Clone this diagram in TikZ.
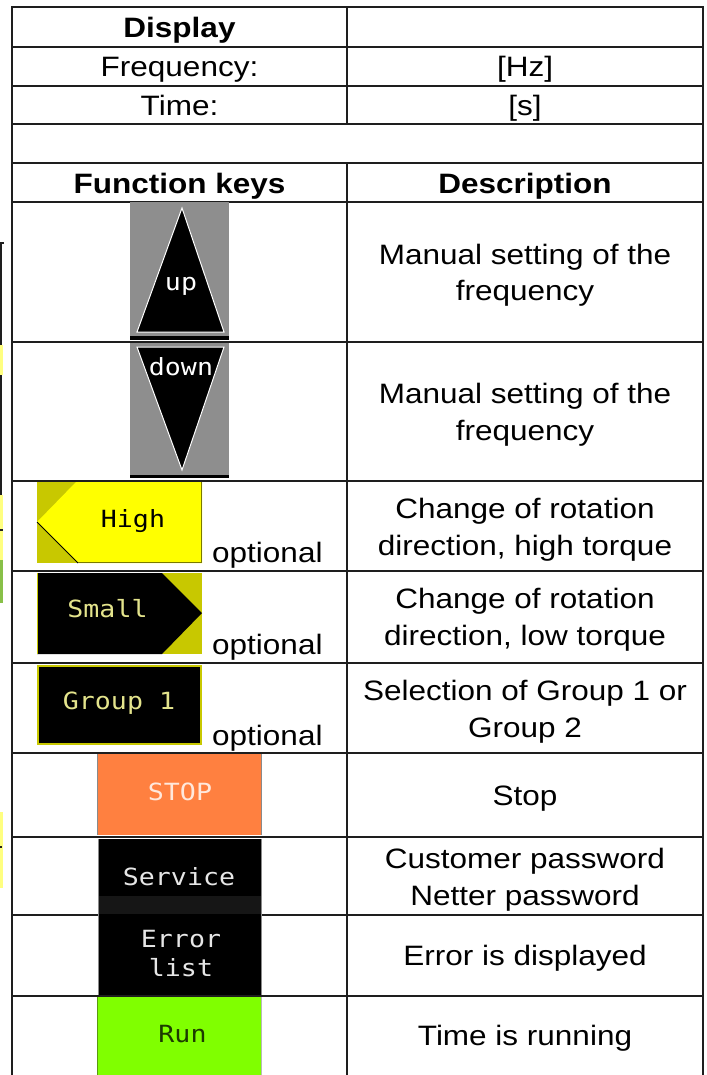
\documentclass[tikz,border=0pt]{standalone}
\usepackage{fontspec}
\usepackage{graphicx}
\setmainfont{Liberation Sans}
\newfontfamily\monof{DejaVu Sans Mono}
\definecolor{linec}{HTML}{1E1E1E}
\definecolor{keygray}{HTML}{8E8E8E}
\definecolor{hiyel}{HTML}{FFFF00}
\definecolor{keyolive}{HTML}{C8C800}
\definecolor{darkolive}{HTML}{7A7A00}
\definecolor{paleyel}{HTML}{E4E48C}
\definecolor{stoporange}{HTML}{FF8040}
\definecolor{stoptext}{HTML}{FFE8DC}
\definecolor{rungreen}{HTML}{80FF00}
\definecolor{runedge}{HTML}{5A9A10}
\definecolor{runtext}{HTML}{1C3A00}
\definecolor{svctext}{HTML}{E6E6E6}
\definecolor{svcband}{HTML}{161616}
\definecolor{sidegray}{HTML}{8A8A8A}
\definecolor{sliveryel}{HTML}{FFFF80}
\definecolor{slivergreen}{HTML}{88C048}
\newcommand\sqz[1]{\scalebox{1}[0.89]{#1}}
\newcommand\twol[2]{\sqz{\begin{tabular}[b]{@{}c@{}}#1\\#2\end{tabular}}}
\begin{document}
\begin{tikzpicture}[x=1pt,y=1pt,
  txt/.style={font=\fontsize{31.5}{41}\selectfont, inner sep=0pt, anchor=base},
  hdr/.style={font=\fontsize{31.5}{41}\selectfont\bfseries, inner sep=0pt, anchor=base},
  opt/.style={font=\fontsize{31.5}{41}\selectfont, inner sep=0pt, anchor=base west},
  key/.style={font=\monof\fontsize{26.6}{31.5}\selectfont, inner sep=0pt, anchor=base},
  grid/.style={draw=linec, line width=2pt, line cap=rect}]
\useasboundingbox[fill=white] (0,0) rectangle (706,-1075);

% left-edge slivers
\fill[linec] (0,-242) rectangle (4,-244);
\fill[linec] (0,-243) rectangle (2,-345);
\fill[sliveryel] (0,-345) rectangle (2.7,-375);
\fill[linec] (0,-375) rectangle (2,-495);
\fill[sliveryel] (0,-495) rectangle (2.7,-560);
\fill[linec] (0,-529) rectangle (3,-531);
\fill[slivergreen] (0,-560) rectangle (2.7,-603);
\fill[sliveryel] (0,-812) rectangle (2.7,-888);
\fill[linec] (0,-846) rectangle (2,-848);

% grid
\draw[grid] (12,-7) -- (12,-1076);
\draw[grid] (703,-7) -- (703,-1076);
\draw[grid] (347,-7) -- (347,-124);
\draw[grid] (347,-163) -- (347,-1076);
\foreach \yy in {7,47,86,124,163,202,342,481,571,663,753,837,915,996}
  \draw[grid] (12,-\yy) -- (703,-\yy);

% header texts
\node[hdr] (display) at (179.5,-38) {\sqz{Display}};
\node[txt] (freq) at (179.5,-77) {\sqz{Frequency:}};
\node[txt] (hz) at (525,-77) {\sqz{[Hz]}};
\node[txt] (time) at (179.5,-116) {\sqz{Time:}};
\node[txt] (sec) at (525,-116) {\sqz{[s]}};
\node[hdr] (fkeys) at (179.5,-194) {\sqz{Function keys}};
\node[hdr] (descr) at (525,-194) {\sqz{Description}};

% up key
\fill[keygray] (130,-202) rectangle (229,-336);
\fill[black] (130,-336) rectangle (229,-340);
\draw[white, line width=1pt, fill=black] (182,-208) -- (224,-332) -- (137,-332) -- cycle;
\node[key, text=white] (up) at (181,-290) {\sqz{up}};

% down key
\fill[keygray] (130,-343) rectangle (229,-475);
\fill[black] (130,-475) rectangle (229,-478);
\draw[white, line width=1pt, fill=black] (137,-347) -- (224,-347) -- (182,-470) -- cycle;
\node[key, text=white] (down) at (181,-375) {\sqz{down}};

% High key
\fill[keyolive] (37,-482) rectangle (202,-563);
\fill[hiyel] (76,-482) -- (202,-482) -- (202,-563) -- (78,-563) -- (37,-522) -- cycle;
\draw[black, line width=0.8pt] (37,-522) -- (78,-563);
\draw[darkolive, line width=1pt] (201.5,-482) -- (201.5,-562.5) -- (78,-562.5);
\node[key, text=black] (high) at (133,-527) {\sqz{High}};
\node[opt] (opt1) at (212,-562) {\sqz{optional}};

% Small key
\fill[keyolive] (37,-573) rectangle (202,-654);
\fill[black] (37,-573) -- (162,-573) -- (202,-613) -- (162,-654) -- (37,-654) -- cycle;
\draw[keyolive, line width=1pt] (37.5,-573) -- (37.5,-654);
\node[key, text=paleyel] (small) at (107.5,-617) {\sqz{Small}};
\node[opt] (opt2) at (212,-654) {\sqz{optional}};

% Group 1 key
\draw[keyolive, line width=2pt, fill=black] (38,-666) rectangle (201,-744);
\node[key, text=paleyel] (group) at (119,-709) {\sqz{Group 1}};
\node[opt] (opt3) at (212,-745) {\sqz{optional}};

% STOP key
\fill[stoporange] (97,-754) rectangle (262,-835);
\draw[sidegray, line width=1pt] (97.5,-754) -- (97.5,-835) (261.5,-754) -- (261.5,-835);
\node[key, text=stoptext] (stop) at (180,-800) {\sqz{STOP}};

% Service / Error list keys
\fill[black] (98,-839) rectangle (262,-995);
\fill[svcband] (98,-896) rectangle (262,-914);
\draw[sidegray, line width=1pt] (98.5,-839) -- (98.5,-995) (261.5,-839) -- (261.5,-995);
\node[key, text=svctext] (service) at (179,-885) {\sqz{Service}};
\node[key, text=svctext] (errlist) at (181,-976) {\twol{Error}{list}};

% Run key
\fill[rungreen] (97,-997) rectangle (262,-1075);
\draw[runedge, line width=1pt] (97.5,-997) -- (97.5,-1075);
\draw[sidegray!60, line width=1pt] (261.5,-997) -- (261.5,-1075);
\node[key, text=runtext] (run) at (182.5,-1042) {\sqz{Run}};

% descriptions
\node[txt] (d1) at (525,-300.5) {\twol{Manual setting of the}{frequency}};
\node[txt] (d2) at (525,-440) {\twol{Manual setting of the}{frequency}};
\node[txt] (d3) at (525,-555) {\twol{Change of rotation}{direction, high torque}};
\node[txt] (d4) at (525,-645) {\twol{Change of rotation}{direction, low torque}};
\node[txt] (d5) at (525,-737) {\twol{Selection of Group 1 or}{Group 2}};
\node[txt] (d6) at (525,-805) {\sqz{Stop}};
\node[txt] (d7) at (525,-905) {\twol{Customer password}{Netter password}};
\node[txt] (d8) at (525,-965) {\sqz{Error is displayed}};
\node[txt] (d9) at (525,-1045) {\sqz{Time is running}};
\end{tikzpicture}
\end{document}
